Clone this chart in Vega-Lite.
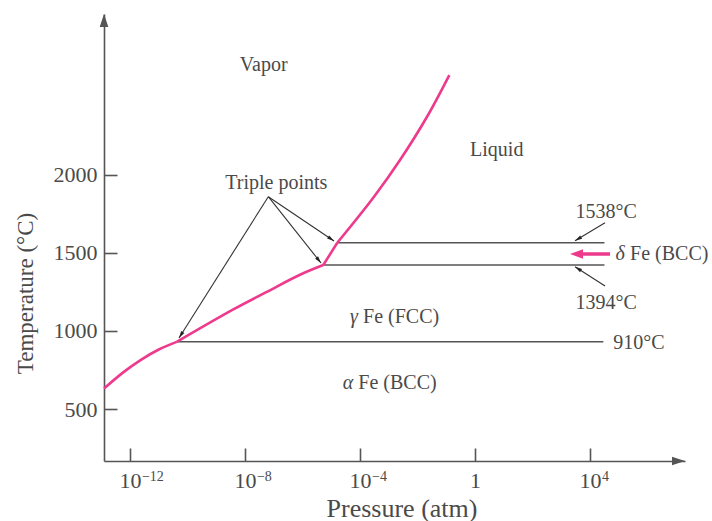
{
  "$schema": "https://vega.github.io/schema/vega-lite/v6.json",
  "width": 581,
  "height": 447,
  "autosize": "none",
  "padding": {"left": 104, "top": 14, "right": 27, "bottom": 60},
  "background": "white",
  "config": {
    "view": {"stroke": null},
    "font": "Liberation Serif",
    "axis": {
      "grid": false,
      "domainColor": "#555555",
      "domainWidth": 1.6,
      "tickColor": "#555555",
      "tickWidth": 1.6,
      "tickSize": -13,
      "labelFont": "Liberation Serif",
      "labelFontSize": 22,
      "labelColor": "#4a4a4a",
      "titleFont": "Liberation Serif",
      "titleFontWeight": "normal",
      "titleColor": "#4a4a4a",
      "labelFlush": false,
      "labelOverlap": false
    }
  },
  "datasets": {
    "boundary": [
      {"seg": "alpha-vapor", "p": -12.9, "t": 631},
      {"seg": "alpha-vapor", "p": -12.243, "t": 733},
      {"seg": "alpha-vapor", "p": -11.617, "t": 815},
      {"seg": "alpha-vapor", "p": -10.994, "t": 881},
      {"seg": "alpha-vapor", "p": -10.372, "t": 930},
      {"seg": "gamma-vapor", "p": -10.372, "t": 930},
      {"seg": "gamma-vapor", "p": -8.404, "t": 1138},
      {"seg": "gamma-vapor", "p": -7.243, "t": 1250},
      {"seg": "gamma-vapor", "p": -6.085, "t": 1360},
      {"seg": "gamma-vapor", "p": -5.275, "t": 1422},
      {"seg": "delta-vapor", "p": -5.275, "t": 1422},
      {"seg": "delta-vapor", "p": -4.79, "t": 1565},
      {"seg": "liquid-vapor", "p": -4.79, "t": 1565},
      {"seg": "liquid-vapor", "p": -3.512, "t": 1860},
      {"seg": "liquid-vapor", "p": -2.608, "t": 2095},
      {"seg": "liquid-vapor", "p": -1.669, "t": 2372},
      {"seg": "liquid-vapor", "p": -0.894, "t": 2639}
    ],
    "isotherms": [
      {"p": -10.372, "t": 930, "p2": 4.46},
      {"p": -5.275, "t": 1422, "p2": 4.5},
      {"p": -4.79, "t": 1565, "p2": 4.5}
    ],
    "pointers": [
      {"p": -7.187, "t": 1860, "p2": -10.292, "t2": 955, "heading": 212},
      {"p": -7.187, "t": 1860, "p2": -5.355, "t2": 1435, "heading": 141.5},
      {"p": -7.187, "t": 1860, "p2": -4.903, "t2": 1576, "heading": 124},
      {"p": 4.52, "t": 1693, "p2": 3.477, "t2": 1578, "heading": 239},
      {"p": 4.52, "t": 1288, "p2": 3.477, "t2": 1411, "heading": 303}
    ],
    "axisheads": [
      {"p": -12.9, "t": 3030, "heading": 0},
      {"p": 7.3, "t": 167, "heading": 90}
    ],
    "pinkarrow": [
      {"p": 4.694, "t": 1493, "p2": 3.55, "tip": 3.303, "heading": 270}
    ],
    "exponents": [
      {"p": -12, "label": "−12"},
      {"p": -8, "label": "−8"},
      {"p": -4, "label": "−4"},
      {"p": 4, "label": "4"}
    ],
    "centered": [
      {"p": -7.347, "t": 2703, "label": "Vapor"},
      {"p": 0.754, "t": 2159, "label": "Liquid"},
      {"p": -6.909, "t": 1950, "label": "Triple points"},
      {"p": 4.56, "t": 1764, "label": "1538°C"},
      {"p": 4.56, "t": 1177, "label": "1394°C"}
    ],
    "leftaligned": [
      {"p": 4.809, "t": 921, "label": "910°C"},
      {"p": 5.39, "t": 1493, "label": "Fe (BCC)"},
      {"p": -3.894, "t": 1091, "label": "Fe (FCC)"},
      {"p": -4.058, "t": 665, "label": "Fe (BCC)"}
    ],
    "greek": [
      {"p": 5.042, "t": 1493, "label": "δ"},
      {"p": -4.207, "t": 1091, "label": "γ"},
      {"p": -4.416, "t": 665, "label": "α"}
    ]
  },
  "layer": [
    {
      "data": {"name": "isotherms"},
      "mark": {"type": "rule", "color": "#555555", "strokeWidth": 1.5},
      "encoding": {
        "x": {
          "field": "p", "type": "quantitative",
          "scale": {"domain": [-12.9, 7.3], "nice": false, "zero": false},
          "axis": {
            "values": [-12, -8, -4, 0, 4],
            "title": "Pressure (atm)",
            "titleFontSize": 26,
            "labelPadding": 22,
            "labelExpr": "datum.value == 0 ? '1' : '10'",
            "titleX": 297.5,
            "titleY": 47,
            "titleBaseline": "middle"
          }
        },
        "x2": {"field": "p2"},
        "y": {
          "field": "t", "type": "quantitative",
          "scale": {"domain": [167, 3030], "nice": false, "zero": false},
          "axis": {
            "values": [500, 1000, 1500, 2000],
            "format": "d",
            "title": "Temperature (°C)",
            "titleFontSize": 23,
            "labelPadding": 20,
            "titleX": -79,
            "titleY": 279,
            "titleBaseline": "middle",
            "titleAlign": "center"
          }
        }
      }
    },
    {
      "data": {"name": "pointers"},
      "mark": {"type": "rule", "color": "#333333", "strokeWidth": 1.1},
      "encoding": {
        "x": {"field": "p", "type": "quantitative"},
        "x2": {"field": "p2"},
        "y": {"field": "t", "type": "quantitative"},
        "y2": {"field": "t2"}
      }
    },
    {
      "data": {"name": "pointers"},
      "mark": {"type": "point", "filled": true, "color": "#222222", "opacity": 1, "shape": "M0,0L0.45,1.7L-0.45,1.7Z", "size": 70},
      "encoding": {
        "x": {"field": "p2", "type": "quantitative"},
        "y": {"field": "t2", "type": "quantitative"},
        "angle": {"field": "heading", "type": "quantitative", "scale": null}
      }
    },
    {
      "data": {"name": "boundary"},
      "mark": {"type": "line", "color": "#ee3a8c", "strokeWidth": 2.6, "interpolate": "catmull-rom"},
      "encoding": {
        "x": {"field": "p", "type": "quantitative"},
        "y": {"field": "t", "type": "quantitative"},
        "detail": {"field": "seg"},
        "order": {"field": "p"}
      }
    },
    {
      "data": {"name": "pinkarrow"},
      "mark": {"type": "rule", "color": "#ee3a8c", "strokeWidth": 3.5},
      "encoding": {
        "x": {"field": "p", "type": "quantitative"},
        "x2": {"field": "p2"},
        "y": {"field": "t", "type": "quantitative"}
      }
    },
    {
      "data": {"name": "pinkarrow"},
      "mark": {"type": "point", "filled": true, "color": "#ee3a8c", "opacity": 1, "shape": "M0,0L0.55,1.5L-0.55,1.5Z", "size": 300},
      "encoding": {
        "x": {"field": "tip", "type": "quantitative"},
        "y": {"field": "t", "type": "quantitative"},
        "angle": {"field": "heading", "type": "quantitative", "scale": null}
      }
    },
    {
      "data": {"name": "axisheads"},
      "mark": {"type": "point", "filled": true, "color": "#555555", "opacity": 1, "shape": "M0,0L0.5,1.5L-0.5,1.5Z", "size": 300, "clip": false},
      "encoding": {
        "x": {"field": "p", "type": "quantitative"},
        "y": {"field": "t", "type": "quantitative"},
        "angle": {"field": "heading", "type": "quantitative", "scale": null}
      }
    },
    {
      "data": {"name": "exponents"},
      "mark": {"type": "text", "font": "Liberation Serif", "fontSize": 14, "color": "#4a4a4a", "align": "left", "baseline": "middle", "dx": 12, "dy": 15.5},
      "encoding": {
        "x": {"field": "p", "type": "quantitative"},
        "y": {"datum": 167, "type": "quantitative"},
        "text": {"field": "label"}
      }
    },
    {
      "data": {"name": "centered"},
      "mark": {"type": "text", "font": "Liberation Serif", "fontSize": 20, "color": "#4a4a4a", "align": "center", "baseline": "middle"},
      "encoding": {
        "x": {"field": "p", "type": "quantitative"},
        "y": {"field": "t", "type": "quantitative"},
        "text": {"field": "label"}
      }
    },
    {
      "data": {"name": "leftaligned"},
      "mark": {"type": "text", "font": "Liberation Serif", "fontSize": 20, "color": "#4a4a4a", "align": "left", "baseline": "middle"},
      "encoding": {
        "x": {"field": "p", "type": "quantitative"},
        "y": {"field": "t", "type": "quantitative"},
        "text": {"field": "label"}
      }
    },
    {
      "data": {"name": "greek"},
      "mark": {"type": "text", "font": "Liberation Serif", "fontSize": 20, "fontStyle": "italic", "color": "#4a4a4a", "align": "center", "baseline": "middle"},
      "encoding": {
        "x": {"field": "p", "type": "quantitative"},
        "y": {"field": "t", "type": "quantitative"},
        "text": {"field": "label"}
      }
    }
  ]
}
